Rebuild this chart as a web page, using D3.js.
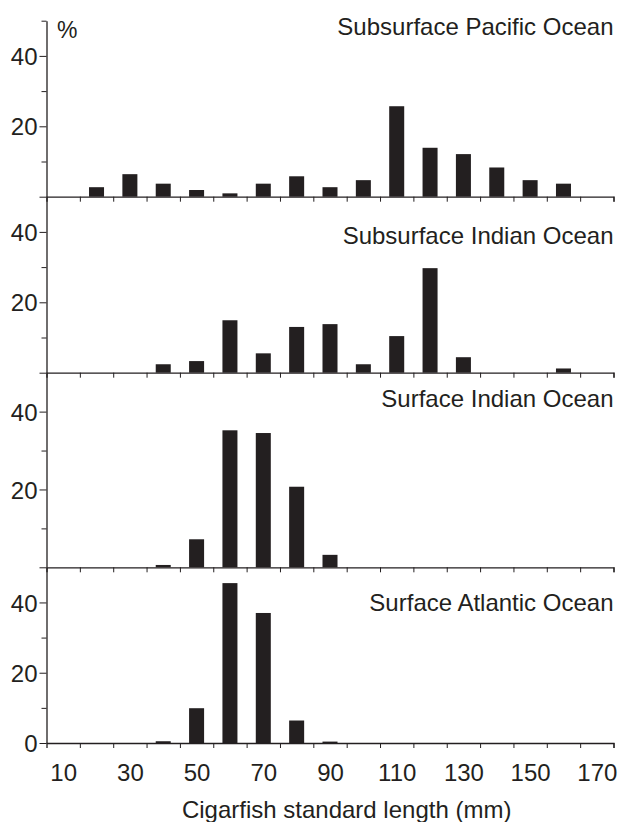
<!DOCTYPE html>
<html>
<head>
<meta charset="utf-8">
<script src="https://cdn.jsdelivr.net/npm/d3@7"></script>
<style>
  body { margin: 0; background: #fff; }
  text { font-family: "Liberation Sans", Arial, sans-serif; fill: #231f20; }
</style>
</head>
<body>
<script>
// length classes (mm), bar centres
const bins = [10, 20, 30, 40, 50, 60, 70, 80, 90, 100, 110, 120, 130, 140, 150, 160, 170];
const xLabels = [10, 30, 50, 70, 90, 110, 130, 150, 170];
const binEdges = [15, 25, 35, 45, 55, 65, 75, 85, 95, 105, 115, 125, 135, 145, 155, 165, 175];
const yTicks = [0, 10, 20, 30, 40, 50];

const panelNames = ["Subsurface Pacific Ocean", "Subsurface Indian Ocean", "Surface Indian Ocean", "Surface Atlantic Ocean"];

// % of fish in each class
const subPacific = [0, 2.7, 6.4, 3.7, 1.9, 0.95, 3.7, 5.8, 2.7, 4.7, 25.7, 13.9, 12.1, 8.3, 4.7, 3.7, 0];
const subIndian = [0, 0, 0, 2.4, 3.3, 14.9, 5.5, 13.0, 13.8, 2.4, 10.4, 29.7, 4.4, 0, 0, 1.2, 0];
const surfIndian = [0, 0, 0, 0.6, 7.2, 35.2, 34.5, 20.7, 3.2, 0, 0, 0, 0, 0, 0, 0, 0];
const surfAtlantic = [0, 0, 0, 0.5, 9.9, 45.5, 37.0, 6.4, 0.4, 0, 0, 0, 0, 0, 0, 0, 0];

const series = [subPacific, subIndian, surfIndian, surfAtlantic];

const w = 618;
const h = 822;
const ink = "#231f20";

// panel boxes (top = value 50, base = value 0) and title baselines
const boxes = [
    {top: 20.7, base: 196.7, titleY: 35},
    {top: 196.7, base: 372.7, titleY: 244},
    {top: 372.7, base: 567.3, titleY: 407},
    {top: 567.3, base: 743, titleY: 611}
];

const svg = d3.select("body")
    .append("svg")
    .attr("width", w)
    .attr("height", h);

const xScale = d3.scaleLinear().domain([5, 175]).range([46.5, 613.5]);
const barHalf = 2.25; // in mm, gives ~15px bars

series.forEach((vals, i) => {
    const b = boxes[i];
    const yScale = d3.scaleLinear().domain([0, 50]).range([b.base, b.top]);
    const g = svg.append("g");
    const last = i === series.length - 1;

    g.selectAll("rect")
        .data(bins.map((c, k) => ({c: c, v: vals[k]})).filter(d => d.v > 0))
        .enter()
        .append("rect")
        .attr("x", d => xScale(d.c - barHalf))
        .attr("width", d => xScale(d.c + barHalf) - xScale(d.c - barHalf))
        .attr("y", d => yScale(d.v))
        .attr("height", d => yScale(0) - yScale(d.v))
        .attr("fill", ink);

    // y axis
    const yAxis = d3.axisLeft(yScale)
        .tickValues(yTicks)
        .tickSizeOuter(0)
        .tickPadding(3)
        .tickFormat(d => (d === 20 || d === 40 || (d === 0 && last)) ? d : "");
    const ya = g.append("g")
        .attr("transform", `translate(${xScale(5)},0)`)
        .call(yAxis);
    ya.select(".domain").attr("stroke", ink).attr("stroke-width", 1.3);
    ya.selectAll(".tick line")
        .attr("stroke", ink)
        .attr("x2", d => (d === 20 || d === 40 || d === 0) ? -7 : -5);
    ya.selectAll(".tick text").style("font-size", "24px").attr("dy", "0.36em");
    if (i > 0) ya.selectAll(".tick").filter(d => d === 50).remove();

    // x baseline with bin edge ticks
    const xa = g.append("g")
        .attr("transform", `translate(0,${b.base})`)
        .call(d3.axisBottom(xScale).tickValues(binEdges).tickSizeOuter(0).tickSize(5).tickFormat(""));
    xa.select(".domain").attr("stroke", ink).attr("stroke-width", 1.3);
    xa.selectAll(".tick line").attr("stroke", ink);

    g.append("text")
        .attr("x", 613.5)
        .attr("y", b.titleY)
        .attr("text-anchor", "end")
        .style("font-size", "24px")
        .text(panelNames[i]);

    if (last) {
        const lab = svg.append("g")
            .attr("transform", `translate(0,${b.base})`)
            .call(d3.axisBottom(xScale).tickValues(xLabels).tickSize(0).tickPadding(21));
        lab.select(".domain").remove();
        lab.selectAll(".tick text").style("font-size", "24px");
    }
});

svg.append("text")
    .attr("x", 57)
    .attr("y", 38)
    .style("font-size", "23px")
    .text("%");

svg.append("text")
    .attr("x", xScale(95))
    .attr("y", 818)
    .attr("text-anchor", "middle")
    .style("font-size", "24px")
    .text("Cigarfish standard length (mm)");
</script>
</body>
</html>
